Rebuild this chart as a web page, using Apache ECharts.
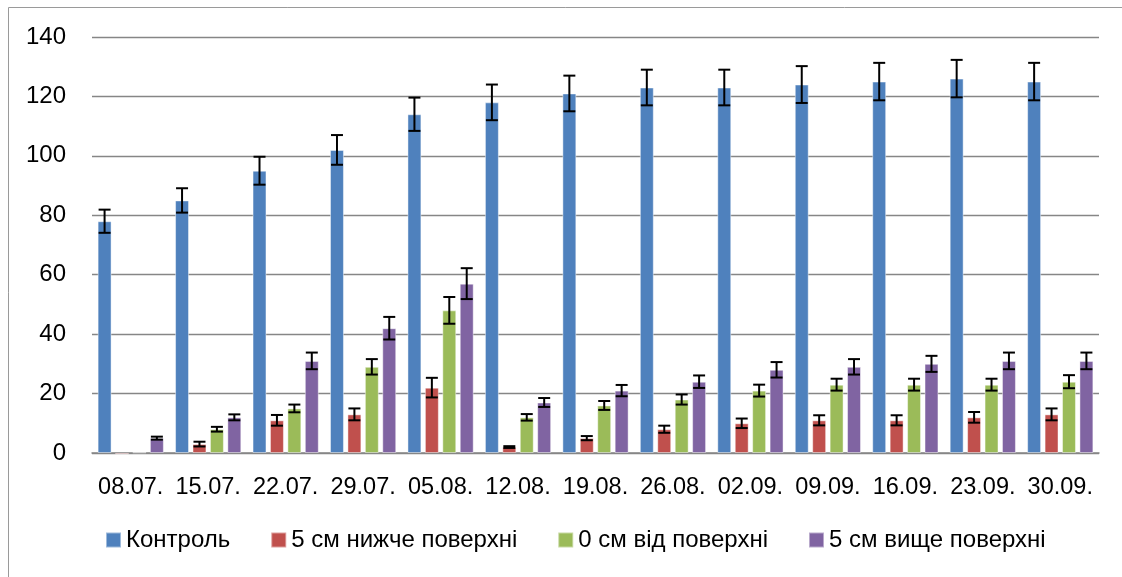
<!DOCTYPE html>
<html>
<head>
<meta charset="utf-8">
<script src="https://cdn.jsdelivr.net/npm/echarts@6/dist/echarts.min.js"></script>
<style>html,body{margin:0;padding:0;background:#fff;}#c{width:1122px;height:577px;}</style>
</head>
<body>
<div id="c"></div>
<script>
const categories = ['08.07.','15.07.','22.07.','29.07.','05.08.','12.08.','19.08.','26.08.','02.09.','09.09.','16.09.','23.09.','30.09.'];
const seriesNames = ['Контроль','5 см нижче поверхні','0 см від поверхні','5 см вище поверхні'];
const control    = [78, 85, 95, 102, 114, 118, 121, 123, 123, 124, 125, 126, 125];
const controlErr = [3.9, 4.1, 4.7, 5, 5.6, 6, 6, 6, 6, 6.2, 6.3, 6.3, 6.3];
const below5     = [-0.5, 3, 11, 13, 22, 2, 5, 8, 10, 11, 11, 12, 13];
const below5Err  = [0, 0.8, 1.8, 2, 3.3, 0.3, 0.7, 1.2, 1.6, 1.7, 1.7, 1.8, 2];
const surface0   = [0.2, 8, 15, 29, 48, 12, 16, 18, 21, 23, 23, 23, 24];
const surface0Err= [0, 0.8, 1.3, 2.6, 4.5, 1.1, 1.5, 1.7, 2, 2, 2, 2, 2.2];
const above5     = [5, 12, 31, 42, 57, 17, 21, 24, 28, 29, 30, 31, 31];
const above5Err  = [0.5, 1, 2.8, 3.8, 5.2, 1.5, 1.9, 2.1, 2.6, 2.6, 2.7, 2.8, 2.8];
const yTicks = [0, 20, 40, 60, 80, 100, 120, 140];

const colors = ['#4F81BD','#C0504D','#9BBB59','#8064A2'];
const values = [control, below5, surface0, above5];
const errors = [controlErr, below5Err, surface0Err, above5Err];
const BAR_RATIO = 0.18, BAR_GAP = 0.25;
const FONT = 'Liberation Sans';

const chart = echarts.init(document.getElementById('c'), null, {renderer:'canvas'});
const series = [];
values.forEach((vals, s) => {
  series.push({
    name: seriesNames[s], type: 'bar', data: vals,
    barWidth: (BAR_RATIO*100)+'%', barGap: (BAR_GAP*100)+'%',
    clip: false,
    itemStyle: {color: colors[s], borderColor: 'rgba(255,255,255,0.45)', borderWidth: 1}
  });
});
values.forEach((vals, s) => {
  series.push({
    name: 'err' + s, type: 'custom', z: 10, silent: true,
    data: vals.map((v, i) => [i, v, errors[s][i]]),
    encode: {x: 0, y: 1},
    renderItem: function (params, api) {
      const i = api.value(0), v = api.value(1), e = api.value(2);
      if (!e) return null;
      const catW = api.size([1, 0])[0];
      const bw = catW * BAR_RATIO;
      const c = api.coord([i, v]);
      const x = c[0] + (s - 1.5) * bw * (1 + BAR_GAP);
      const hi = api.coord([i, v + e])[1];
      const lo = api.coord([i, v - e])[1];
      const h = bw * 0.43;
      const st = {stroke: '#000', lineWidth: 2};
      return {type: 'group', children: [
        {type: 'line', shape: {x1: x, y1: hi, x2: x, y2: lo}, style: st},
        {type: 'line', shape: {x1: x - h, y1: hi, x2: x + h, y2: hi}, style: st},
        {type: 'line', shape: {x1: x - h, y1: lo, x2: x + h, y2: lo}, style: st}
      ]};
    }
  });
});

chart.setOption({
  animation: false,
  backgroundColor: '#fff',
  textStyle: {fontFamily: FONT},
  graphic: [{type: 'rect', shape: {x: 8.5, y: 7.5, width: 1200, height: 700}, style: {fill: 'none', stroke: '#9a9a9a', lineWidth: 1}, silent: true}],
  grid: {left: 92, right: 23, top: 37, bottom: 124},
  legend: {
    data: seriesNames, bottom: 20, left: 100,
    itemWidth: 15, itemHeight: 15, itemGap: 40,
    icon: 'rect',
    textStyle: {fontSize: 24, color: '#000', fontFamily: FONT}
  },
  xAxis: {
    type: 'category', data: categories,
    axisLine: {lineStyle: {color: '#868686', width: 1.5}},
    axisTick: {show: false},
    axisLabel: {fontSize: 23.5, color: '#000', margin: 23, interval: 0, hideOverlap: false, fontFamily: FONT}
  },
  yAxis: {
    type: 'value', min: yTicks[0], max: yTicks[yTicks.length-1], interval: 20,
    axisLine: {show: false}, axisTick: {show: false},
    axisLabel: {fontSize: 24, color: '#000', margin: 26, fontFamily: FONT},
    splitLine: {lineStyle: {color: '#868686', width: 1.3}}
  },
  series: series
});
</script>
</body>
</html>
